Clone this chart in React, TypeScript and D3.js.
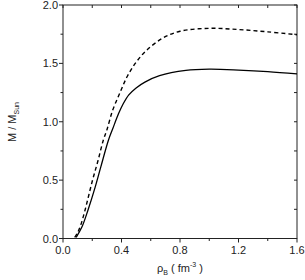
import React from 'react';
import * as d3 from 'd3';

// density (fm^-3) vs. mass (solar masses)
const dashedRho = [0.08, 0.1, 0.12, 0.15, 0.2, 0.24, 0.275, 0.3, 0.34, 0.39, 0.44, 0.5, 0.57, 0.68, 0.8, 1.0, 1.2, 1.4, 1.6];
const dashedMass = [0.01, 0.05, 0.11, 0.24, 0.49, 0.67, 0.84, 0.93, 1.1, 1.25, 1.39, 1.51, 1.61, 1.715, 1.775, 1.8, 1.79, 1.77, 1.745];

const solidRho = [0.09, 0.13, 0.17, 0.22, 0.26, 0.31, 0.34, 0.38, 0.41, 0.45, 0.5, 0.56, 0.66, 0.84, 1.0, 1.2, 1.4, 1.6];
const solidMass = [0.01, 0.1, 0.24, 0.44, 0.62, 0.84, 0.94, 1.07, 1.15, 1.23, 1.29, 1.34, 1.395, 1.44, 1.45, 1.443, 1.43, 1.41];

const xTicks = [0, 0.4, 0.8, 1.2, 1.6];
const xMinor = [0.2, 0.6, 1.0, 1.4];
const yTicks = [0, 0.5, 1.0, 1.5, 2.0];
const yMinor = [0.25, 0.75, 1.25, 1.75];

const App: React.FC = () => {
  const left = 63;
  const right = 297;
  const top = 5;
  const bottom = 238.5;

  const x = d3.scaleLinear().domain([0, 1.6]).range([left, right]);
  const y = d3.scaleLinear().domain([0, 2]).range([bottom, top]);

  const line = d3
    .line<[number, number]>()
    .x((d) => x(d[0]))
    .y((d) => y(d[1]))
    .curve(d3.curveCatmullRom.alpha(0.5));

  const dashed = line(dashedRho.map((r, i) => [r, dashedMass[i]]) as [number, number][]) || '';
  const solid = line(solidRho.map((r, i) => [r, solidMass[i]]) as [number, number][]) || '';

  const font = 'Liberation Sans, Arial, sans-serif';
  const ink = '#222';

  return (
    <svg
      width={305}
      height={280}
      style={{ position: 'absolute', left: 0, top: 0, background: '#fff' }}
      fontFamily={font}
    >
      {/* frame */}
      <rect x={left} y={top} width={right - left} height={bottom - top} fill="none" stroke={ink} strokeWidth={1} />

      {/* bottom axis ticks */}
      {xTicks.map((t) => (
        <g key={'xt' + t}>
          <line x1={x(t)} x2={x(t)} y1={bottom} y2={bottom + 4} stroke={ink} />
          <text x={x(t)} y={bottom + 15} textAnchor="middle" fontSize={11} fill={ink}>
            {t.toFixed(1)}
          </text>
        </g>
      ))}
      {xMinor.map((t) => (
        <line key={'xm' + t} x1={x(t)} x2={x(t)} y1={bottom} y2={bottom + 2.5} stroke={ink} />
      ))}
      {/* top axis ticks, inward */}
      {[...xTicks, ...xMinor].map((t) => (
        <line key={'xtop' + t} x1={x(t)} x2={x(t)} y1={top} y2={top + 3} stroke={ink} />
      ))}

      {/* left axis ticks */}
      {yTicks.map((t) => (
        <g key={'yt' + t}>
          <line x1={left - 4} x2={left} y1={y(t)} y2={y(t)} stroke={ink} />
          <text x={left - 5} y={y(t) + 4} textAnchor="end" fontSize={11} fill={ink}>
            {t.toFixed(1)}
          </text>
        </g>
      ))}
      {yMinor.map((t) => (
        <line key={'ym' + t} x1={left - 2.5} x2={left} y1={y(t)} y2={y(t)} stroke={ink} />
      ))}
      {/* right axis ticks, inward */}
      {[...yTicks, ...yMinor].map((t) => (
        <line key={'yr' + t} x1={right - 3} x2={right} y1={y(t)} y2={y(t)} stroke={ink} />
      ))}

      {/* curves */}
      <path d={dashed} fill="none" stroke="#000" strokeWidth={1.4} strokeDasharray="4,3" />
      <path d={solid} fill="none" stroke="#000" strokeWidth={1.3} />

      {/* axis titles */}
      <text x={180} y={272} textAnchor="middle" fontSize={11} fill={ink}>
        ρ<tspan fontSize={7} dy={3}>B</tspan>
        <tspan dy={-3}> ( fm</tspan>
        <tspan fontSize={7} dy={-5}>-3</tspan>
        <tspan dy={5}> )</tspan>
      </text>
      <text transform="translate(16,122) rotate(-90)" textAnchor="middle" fontSize={11} fill={ink}>
        M / M<tspan fontSize={7} dy={3}>Sun</tspan>
      </text>
    </svg>
  );
};

export default App;
